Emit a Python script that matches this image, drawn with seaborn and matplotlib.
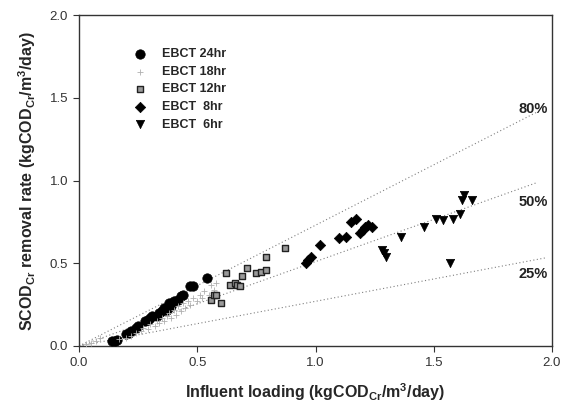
import numpy as np
import pandas as pd
import matplotlib
matplotlib.use("Agg")
import matplotlib.pyplot as plt
import seaborn as sns

sns.set_style("ticks")
plt.rcParams['font.family'] = ['Liberation Sans', 'DejaVu Sans']
plt.rcParams['mathtext.fontset'] = 'custom'
plt.rcParams['mathtext.rm'] = 'Liberation Sans'
plt.rcParams['mathtext.bf'] = 'Liberation Sans:bold'

# ---- data ----
x_24 = [0.14, 0.15, 0.16, 0.20, 0.21, 0.22, 0.24, 0.25, 0.28, 0.29, 0.30, 0.31, 0.33,
        0.34, 0.35, 0.36, 0.37, 0.38, 0.39, 0.40, 0.42, 0.43, 0.44, 0.47, 0.48, 0.54]
y_24 = [0.03, 0.03, 0.035, 0.07, 0.08, 0.09, 0.11, 0.12, 0.15, 0.16, 0.17, 0.18, 0.18,
        0.20, 0.21, 0.23, 0.22, 0.26, 0.24, 0.27, 0.28, 0.30, 0.31, 0.36, 0.36, 0.41]

x_18 = [0.03, 0.05, 0.07, 0.09, 0.17, 0.20, 0.22, 0.24, 0.26, 0.27, 0.29, 0.30, 0.32,
        0.33, 0.34, 0.35, 0.36, 0.37, 0.38, 0.39, 0.40, 0.41, 0.42, 0.43, 0.44, 0.45,
        0.46, 0.47, 0.48, 0.50, 0.51, 0.52, 0.53, 0.55, 0.56, 0.57, 0.58]
y_18 = [0.01, 0.02, 0.03, 0.05, 0.04, 0.05, 0.06, 0.08, 0.09, 0.11, 0.10, 0.13, 0.12,
        0.15, 0.14, 0.17, 0.15, 0.18, 0.20, 0.17, 0.22, 0.19, 0.24, 0.21, 0.26, 0.23,
        0.27, 0.25, 0.29, 0.27, 0.31, 0.29, 0.33, 0.31, 0.37, 0.34, 0.38]

x_12 = [0.56, 0.57, 0.58, 0.60, 0.62, 0.64, 0.66, 0.67, 0.68, 0.69, 0.71, 0.75, 0.77,
        0.79, 0.79, 0.87]
y_12 = [0.28, 0.31, 0.31, 0.26, 0.44, 0.37, 0.38, 0.37, 0.36, 0.42, 0.47, 0.44, 0.45,
        0.46, 0.54, 0.59]

x_8 = [0.96, 0.97, 0.98, 1.02, 1.10, 1.13, 1.15, 1.17, 1.19, 1.20, 1.21, 1.22, 1.24]
y_8 = [0.50, 0.52, 0.54, 0.61, 0.65, 0.66, 0.75, 0.77, 0.68, 0.70, 0.72, 0.73, 0.72]

x_6 = [1.28, 1.29, 1.30, 1.36, 1.46, 1.51, 1.54, 1.58, 1.61, 1.62, 1.63, 1.66, 1.57]
y_6 = [0.58, 0.56, 0.54, 0.66, 0.72, 0.77, 0.76, 0.77, 0.80, 0.88, 0.91, 0.88, 0.50]

series_labels = ["EBCT 24hr", "EBCT 18hr", "EBCT 12hr", "EBCT  8hr", "EBCT  6hr"]

ref_slopes = [0.73, 0.51, 0.27]
ref_xend = [1.94, 1.94, 1.98]
ref_labels = ["80%", "50%", "25%"]
ref_label_y = [1.43, 0.87, 0.435]

x_ticks = [0.0, 0.5, 1.0, 1.5, 2.0]
y_ticks = [0.0, 0.5, 1.0, 1.5, 2.0]

# ---- figure ----
fig = plt.figure(figsize=(5.69, 4.08), dpi=100)
ax = fig.add_axes([0.139, 0.152, 0.831, 0.811])

# reference lines
for s, xe in zip(ref_slopes, ref_xend):
    xs = np.array([0.0, xe])
    ax.plot(xs, s * xs, linestyle=(0, (1, 2.2)), color="#808080", lw=0.8, zorder=1)
for lab, ly in zip(ref_labels, ref_label_y):
    ax.text(1.92, ly, lab, ha="center", va="center", fontsize=10.5, fontweight="bold",
            color="#222222")

styles = [
    dict(marker="o", s=46, color="black", edgecolor="black", linewidth=0.5),
    dict(marker="+", s=14, color="#b0b0b0", linewidth=0.6),
    dict(marker="s", s=20, color="#9a9a9a", edgecolor="#222222", linewidth=1.0),
    dict(marker="D", s=28, color="black", edgecolor="black", linewidth=0.5),
    dict(marker="v", s=36, color="black", edgecolor="black", linewidth=0.5),
]
xs_all = [x_24, x_18, x_12, x_8, x_6]
ys_all = [y_24, y_18, y_12, y_8, y_6]
for xv, yv, lab, st in zip(xs_all, ys_all, series_labels, styles):
    df = pd.DataFrame({"x": xv, "y": yv})
    sns.scatterplot(data=df, x="x", y="y", ax=ax, label=lab, zorder=3, **st)

ax.set_xlim(0, 2.0)
ax.set_ylim(0, 2.0)
ax.set_xticks(x_ticks)
ax.set_yticks(y_ticks)
ax.set_xticklabels([f"{t:.1f}" for t in x_ticks])
ax.set_yticklabels([f"{t:.1f}" for t in y_ticks])
ax.tick_params(direction="out", length=4, width=0.8, labelsize=9.5, colors="#333333", pad=4)
for sp in ax.spines.values():
    sp.set_visible(True)
    sp.set_linewidth(1.0)
    sp.set_color("#333333")

ax.set_xlabel(r"Influent loading (kgCOD$_{\mathbf{Cr}}$/m$^{\mathbf{3}}$/day)",
              fontsize=11.5, fontweight="bold", labelpad=9)
ax.set_ylabel(r"SCOD$_{\mathbf{Cr}}$ removal rate (kgCOD$_{\mathbf{Cr}}$/m$^{\mathbf{3}}$/day)",
              fontsize=11.5, fontweight="bold", labelpad=8)

leg = ax.legend(loc="upper left", bbox_to_anchor=(0.106, 0.915), frameon=False,
                prop={"weight": "bold", "size": 9}, labelspacing=0.45,
                handletextpad=1.2, handlelength=1.0, borderaxespad=0)

fig.savefig("out.png", dpi=100)
